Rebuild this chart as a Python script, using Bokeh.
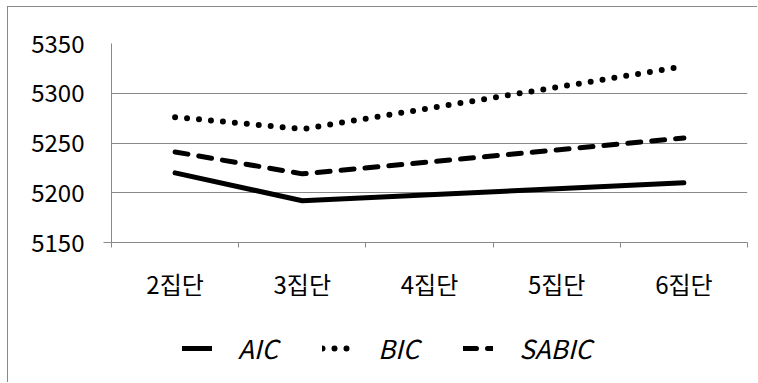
from bokeh.plotting import figure
from bokeh.layouts import column
from bokeh.models import Range1d, FixedTicker, Legend, LegendItem
from bokeh.embed import file_html
from bokeh.resources import INLINE

# Information criteria by number of latent groups
categories = ["2집단", "3집단", "4집단", "5집단", "6집단"]
aic = [5220, 5192, 5198, 5204, 5210]
bic = [5276, 5264, 5285, 5306, 5327]
sabic = [5241, 5219, 5231, 5243, 5255]
y_ticks = [5150, 5200, 5250, 5300, 5350]
series_names = ["AIC", "BIC", "SABIC"]

FONT = "Noto Sans CJK KR"
GRAY = "#898989"
W = 749

# line style per criterion (round dots need a slightly wider pen)
styles = {
    "AIC": dict(line_dash="solid", line_width=5),
    "BIC": dict(line_dash="0 12", line_width=6),
    "SABIC": dict(line_dash="13 11", line_width=5),
}

# category i sits in the middle of slot [i, i+1]
xs = [i + 0.5 for i in range(len(categories))]

p = figure(width=W, height=300, output_backend="svg", toolbar_location=None,
           x_range=Range1d(0, len(categories)), y_range=Range1d(y_ticks[0], y_ticks[-1]),
           min_border_left=103, min_border_right=10, min_border_top=36, min_border_bottom=65)
p.outline_line_color = None
p.background_fill_color = "white"
p.border_fill_color = "white"

# x axis: labels at slot centres, tick marks at slot boundaries
xa = p.xaxis[0]
xa.ticker = FixedTicker(ticks=xs, minor_ticks=list(range(len(categories) + 1)))
xa.major_label_overrides = {x: c for x, c in zip(xs, categories)}
xa.major_tick_out = 0
xa.major_tick_in = 0
xa.minor_tick_out = 5
xa.minor_tick_in = 0
xa.minor_tick_line_color = GRAY
xa.axis_line_color = GRAY
xa.major_label_text_font = FONT
xa.major_label_text_font_size = "24px"
xa.major_label_text_color = "black"
xa.major_label_standoff = 18

ya = p.yaxis[0]
ya.ticker = FixedTicker(ticks=y_ticks, minor_ticks=[y_ticks[0]])
ya.major_tick_out = 0
ya.major_tick_in = 0
ya.minor_tick_out = 8
ya.minor_tick_in = 0
ya.minor_tick_line_color = GRAY
ya.axis_line_color = GRAY
ya.major_label_text_font = FONT
ya.major_label_text_font_size = "24px"
ya.major_label_text_color = "black"
ya.major_label_standoff = 19

p.xgrid.grid_line_color = None
p.ygrid.ticker = FixedTicker(ticks=y_ticks)
p.ygrid.grid_line_color = GRAY
p.ygrid.grid_line_width = 1

for name, vals in zip(series_names, [aic, bic, sabic]):
    p.line(xs, vals, line_color="black", line_cap="round",
           line_join="round", **styles[name])

# legend strip underneath the chart (its frame lines up with the chart's frame)
pl = figure(width=W, height=75, output_backend="svg", toolbar_location=None,
            x_range=Range1d(0, 1), y_range=Range1d(0, 1),
            min_border=0, x_axis_type=None, y_axis_type=None)
pl.outline_line_color = None
pl.grid.visible = False
pl.border_fill_color = "white"

items = []
nan = float("nan")
for name in series_names:
    r = pl.line([nan], [nan], line_color="black", line_cap="round", **styles[name])
    items.append(LegendItem(label=name, renderers=[r]))

legend = Legend(items=items, orientation="horizontal", location=(71, 16),
                glyph_width=30, glyph_height=20, label_standoff=26, spacing=44,
                padding=0, margin=0, border_line_color=None, background_fill_alpha=0,
                label_text_font=FONT, label_text_font_style="italic",
                label_text_font_size="26px", label_text_color="black")
pl.add_layout(legend, "center")

layout = column(p, pl, spacing=0)
layout.margin = (6, 0, 0, 7)
layout.styles = {"border-left": f"1px solid {GRAY}", "border-top": f"1px solid {GRAY}"}

open("out.html", "w").write(file_html(layout, INLINE))
